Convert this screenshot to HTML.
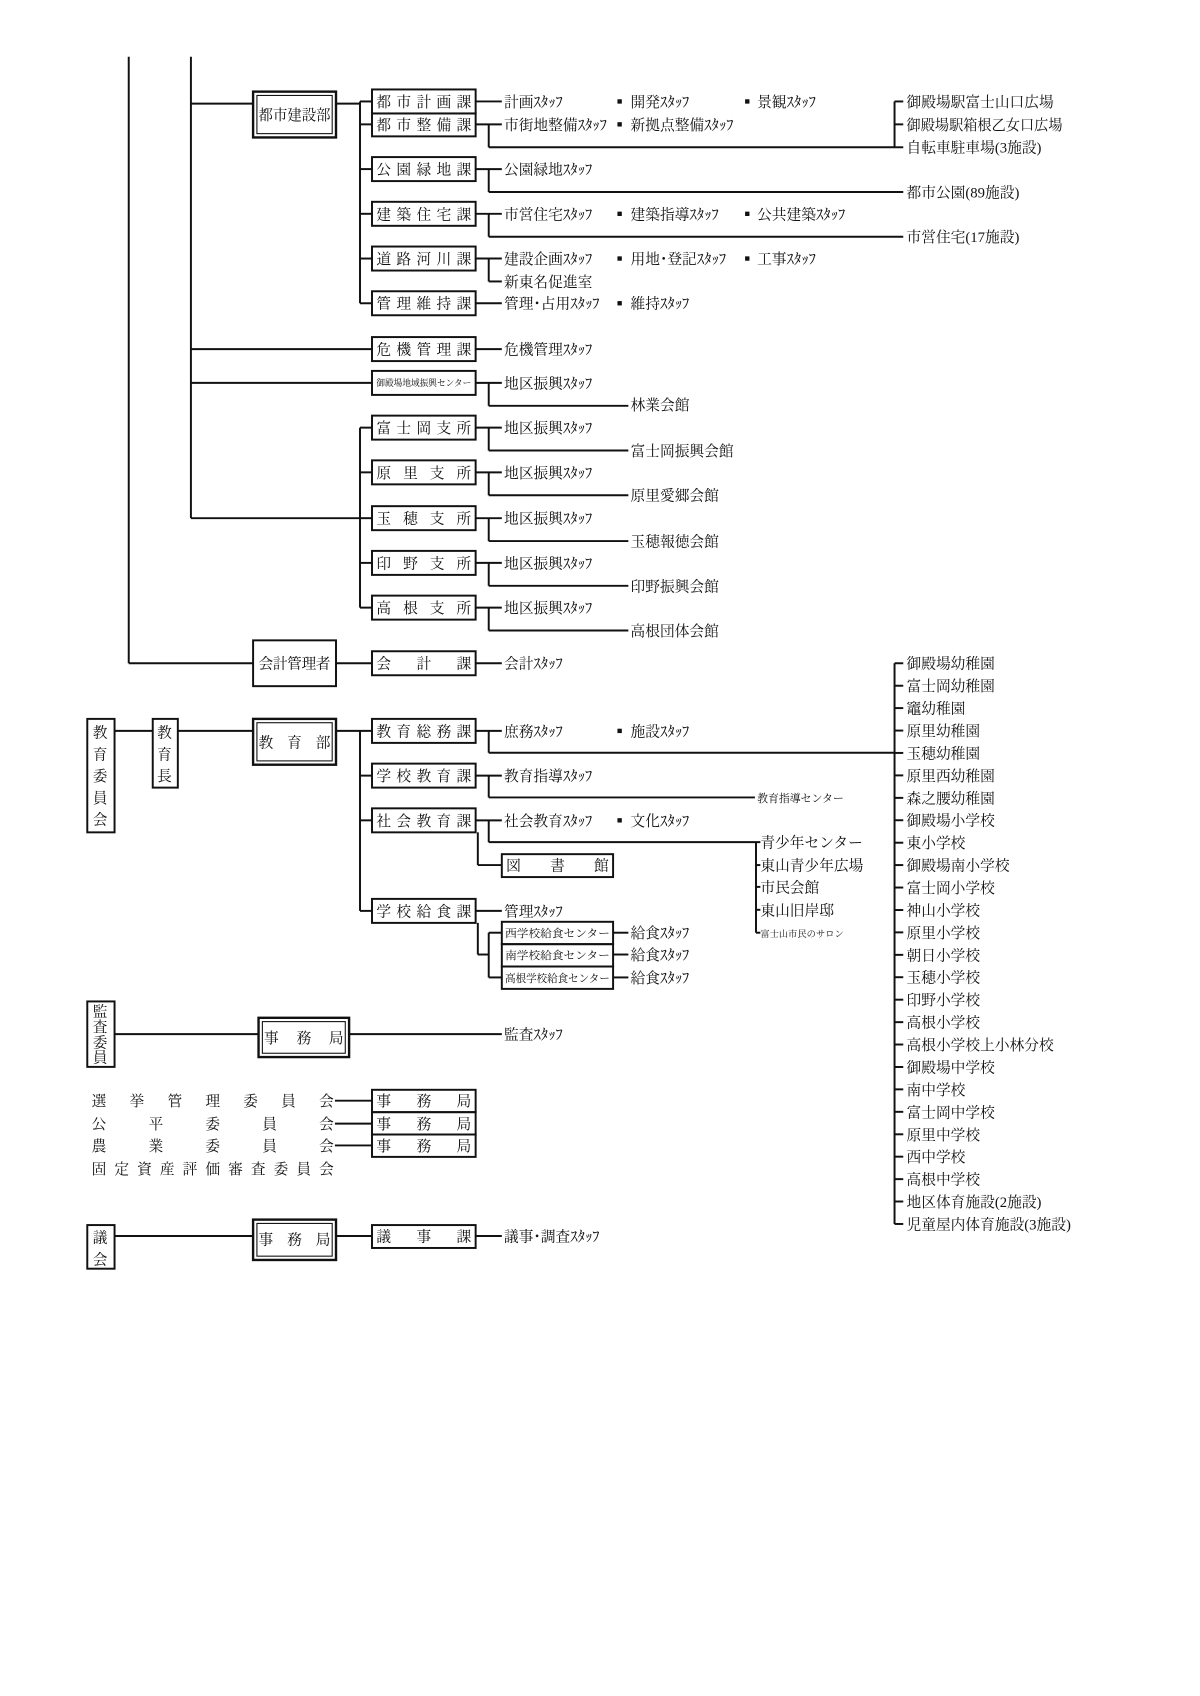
<!DOCTYPE html>
<html><head><meta charset="utf-8">
<style>
html,body{margin:0;padding:0;background:#fff;}
svg{display:block;}
text{font-family:"Liberation Serif","Noto Serif CJK JP","Noto Serif CJK SC",serif;fill:#111;font-size:13.5px;}
.s{font-size:10px;}
.xs{font-size:8.5px;}
</style></head><body>
<svg width="1200" height="1696" viewBox="0 0 1100 1554.7" xmlns="http://www.w3.org/2000/svg">
<g stroke="#111" stroke-width="1.8" fill="none">
<!-- main trunks -->
<line x1="118" y1="52" x2="118" y2="608"/><line x1="118" y1="608" x2="232" y2="608"/>
<line x1="175" y1="52" x2="175" y2="475"/>
<line x1="175" y1="95" x2="232" y2="95"/>
<line x1="175" y1="320" x2="341" y2="320"/>
<line x1="175" y1="351" x2="341" y2="351"/>
<line x1="175" y1="475" x2="330" y2="475"/>
<!-- 都市建設部 -->
<rect x="232" y="84" width="76" height="42" stroke-width="2.2"/><rect x="235.5" y="87.5" width="69" height="35" stroke-width="1"/>
<line x1="308" y1="95" x2="330" y2="95"/>
<line x1="330" y1="93" x2="330" y2="278"/>
<line x1="330" y1="93" x2="341" y2="93"/><line x1="330" y1="114" x2="341" y2="114"/><line x1="330" y1="155" x2="341" y2="155"/><line x1="330" y1="196" x2="341" y2="196"/><line x1="330" y1="237" x2="341" y2="237"/><line x1="330" y1="278" x2="341" y2="278"/>
<!-- section boxes -->
<rect x="341" y="82" width="95" height="22"/><rect x="341" y="104" width="95" height="21"/>
<rect x="341" y="144" width="95" height="22"/><rect x="341" y="185" width="95" height="22"/>
<rect x="341" y="226" width="95" height="22"/><rect x="341" y="267" width="95" height="22"/>
<rect x="341" y="309" width="95" height="22"/><rect x="341" y="340" width="95" height="22"/>
<rect x="341" y="381" width="95" height="22"/><rect x="341" y="422" width="95" height="22"/>
<rect x="341" y="464" width="95" height="22"/><rect x="341" y="505" width="95" height="22"/>
<rect x="341" y="546" width="95" height="22"/><rect x="341" y="597" width="95" height="22"/>
<!-- staff connectors -->
<line x1="436" y1="93" x2="460" y2="93"/><line x1="436" y1="114" x2="460" y2="114"/>
<line x1="448" y1="114" x2="448" y2="135"/><line x1="448" y1="135" x2="820" y2="135"/>
<line x1="820" y1="93" x2="820" y2="135"/><line x1="820" y1="93" x2="828" y2="93"/><line x1="820" y1="114" x2="828" y2="114"/><line x1="820" y1="135" x2="828" y2="135"/>
<line x1="436" y1="155" x2="460" y2="155"/><line x1="448" y1="155" x2="448" y2="176"/><line x1="448" y1="176" x2="828" y2="176"/>
<line x1="436" y1="196" x2="460" y2="196"/><line x1="448" y1="196" x2="448" y2="217"/><line x1="448" y1="217" x2="828" y2="217"/>
<line x1="436" y1="237" x2="460" y2="237"/><line x1="448" y1="237" x2="448" y2="258"/><line x1="448" y1="258" x2="460" y2="258"/>
<line x1="436" y1="278" x2="460" y2="278"/>
<line x1="436" y1="320" x2="460" y2="320"/>
<line x1="436" y1="351" x2="460" y2="351"/><line x1="448" y1="351" x2="448" y2="372"/><line x1="448" y1="372" x2="576" y2="372"/>
<!-- branches -->
<line x1="330" y1="392" x2="330" y2="557"/>
<line x1="330" y1="392" x2="341" y2="392"/><line x1="330" y1="433" x2="341" y2="433"/><line x1="330" y1="557" x2="341" y2="557"/><line x1="330" y1="516" x2="341" y2="516"/><line x1="330" y1="475" x2="341" y2="475"/>
<line x1="436" y1="392" x2="460" y2="392"/><line x1="448" y1="392" x2="448" y2="413"/><line x1="448" y1="413" x2="576" y2="413"/>
<line x1="436" y1="433" x2="460" y2="433"/><line x1="448" y1="433" x2="448" y2="454"/><line x1="448" y1="454" x2="576" y2="454"/>
<line x1="436" y1="475" x2="460" y2="475"/><line x1="448" y1="475" x2="448" y2="496"/><line x1="448" y1="496" x2="576" y2="496"/>
<line x1="436" y1="516" x2="460" y2="516"/><line x1="448" y1="516" x2="448" y2="537"/><line x1="448" y1="537" x2="576" y2="537"/>
<line x1="436" y1="557" x2="460" y2="557"/><line x1="448" y1="557" x2="448" y2="578"/><line x1="448" y1="578" x2="576" y2="578"/>
<!-- 会計管理者 -->
<rect x="232" y="587" width="76" height="42"/>
<line x1="308" y1="608" x2="341" y2="608"/><line x1="436" y1="608" x2="460" y2="608"/>
<!-- education -->
<rect x="80" y="659" width="25" height="104"/>
<rect x="140" y="659" width="23" height="63"/>
<line x1="105" y1="670" x2="140" y2="670"/><line x1="163" y1="670" x2="232" y2="670"/>
<rect x="232" y="659" width="76" height="42" stroke-width="2.2"/><rect x="235.5" y="662.5" width="69" height="35" stroke-width="1"/>
<line x1="308" y1="670" x2="341" y2="670"/>
<line x1="330" y1="670" x2="330" y2="835"/>
<line x1="330" y1="711" x2="341" y2="711"/><line x1="330" y1="752" x2="341" y2="752"/><line x1="330" y1="835" x2="341" y2="835"/>
<rect x="341" y="659" width="95" height="22"/><rect x="341" y="700" width="95" height="22"/>
<rect x="341" y="741" width="95" height="22"/><rect x="341" y="824" width="95" height="22"/>
<line x1="436" y1="670" x2="460" y2="670"/><line x1="448" y1="670" x2="448" y2="690"/><line x1="448" y1="690" x2="820" y2="690"/>
<line x1="820" y1="608" x2="820" y2="1122"/>
<line x1="436" y1="711" x2="460" y2="711"/><line x1="448" y1="711" x2="448" y2="731"/><line x1="448" y1="731" x2="692" y2="731"/>
<line x1="436" y1="752" x2="460" y2="752"/><line x1="448" y1="752" x2="448" y2="772"/><line x1="448" y1="772" x2="697" y2="772"/>
<line x1="438" y1="763" x2="438" y2="793"/><line x1="438" y1="793" x2="460" y2="793"/>
<rect x="460" y="783" width="102" height="21"/>
<line x1="693" y1="772" x2="693" y2="855"/>
<line x1="693" y1="793" x2="697" y2="793"/><line x1="693" y1="813" x2="697" y2="813"/><line x1="693" y1="834" x2="697" y2="834"/><line x1="693" y1="855" x2="697" y2="855"/>
<line x1="436" y1="835" x2="460" y2="835"/>
<line x1="438" y1="846" x2="438" y2="875"/><line x1="438" y1="875" x2="448" y2="875"/>
<line x1="448" y1="855" x2="448" y2="896"/>
<line x1="448" y1="855" x2="460" y2="855"/><line x1="448" y1="896" x2="460" y2="896"/>
<rect x="460" y="845" width="102" height="20.5"/><rect x="460" y="865.5" width="102" height="20.5"/><rect x="460" y="886" width="102" height="20.5"/>
<line x1="562" y1="855" x2="576" y2="855"/><line x1="562" y1="875" x2="576" y2="875"/><line x1="562" y1="896" x2="576" y2="896"/>
<!-- 監査 -->
<rect x="80" y="918" width="25" height="60"/>
<line x1="105" y1="948" x2="237" y2="948"/>
<rect x="237" y="933" width="83" height="36" stroke-width="2.2"/><rect x="240.5" y="936.5" width="76" height="29" stroke-width="1"/>
<line x1="320" y1="948" x2="460" y2="948"/>
<!-- 委員会 -->
<line x1="307" y1="1009" x2="341" y2="1009"/><line x1="307" y1="1030" x2="341" y2="1030"/><line x1="307" y1="1050" x2="341" y2="1050"/>
<rect x="341" y="999" width="95" height="20.5"/><rect x="341" y="1019.5" width="95" height="20.5"/><rect x="341" y="1040" width="95" height="20.5"/>
<!-- 議会 -->
<rect x="80" y="1123" width="25" height="40"/>
<line x1="105" y1="1133" x2="232" y2="1133"/>
<rect x="232" y="1118" width="76" height="37" stroke-width="2.2"/><rect x="235.5" y="1121.5" width="69" height="30" stroke-width="1"/>
<line x1="308" y1="1133" x2="341" y2="1133"/>
<rect x="341" y="1123" width="95" height="21"/>
<line x1="436" y1="1133" x2="460" y2="1133"/>
</g>
<!-- right-side list ticks -->
<g stroke="#111" stroke-width="1.8">
<line x1="820" y1="608" x2="828" y2="608"/><line x1="820" y1="628.6" x2="828" y2="628.6"/><line x1="820" y1="649.1" x2="828" y2="649.1"/><line x1="820" y1="669.7" x2="828" y2="669.7"/><line x1="820" y1="690.2" x2="828" y2="690.2"/><line x1="820" y1="710.8" x2="828" y2="710.8"/><line x1="820" y1="731.4" x2="828" y2="731.4"/><line x1="820" y1="751.9" x2="828" y2="751.9"/><line x1="820" y1="772.5" x2="828" y2="772.5"/><line x1="820" y1="793" x2="828" y2="793"/><line x1="820" y1="813.6" x2="828" y2="813.6"/><line x1="820" y1="834.2" x2="828" y2="834.2"/><line x1="820" y1="854.7" x2="828" y2="854.7"/><line x1="820" y1="875.3" x2="828" y2="875.3"/><line x1="820" y1="895.8" x2="828" y2="895.8"/><line x1="820" y1="916.4" x2="828" y2="916.4"/><line x1="820" y1="937" x2="828" y2="937"/><line x1="820" y1="957.5" x2="828" y2="957.5"/><line x1="820" y1="978.1" x2="828" y2="978.1"/><line x1="820" y1="998.6" x2="828" y2="998.6"/><line x1="820" y1="1019.2" x2="828" y2="1019.2"/><line x1="820" y1="1039.8" x2="828" y2="1039.8"/><line x1="820" y1="1060.3" x2="828" y2="1060.3"/><line x1="820" y1="1080.9" x2="828" y2="1080.9"/><line x1="820" y1="1101.4" x2="828" y2="1101.4"/><line x1="820" y1="1122" x2="828" y2="1122"/>
</g>
<!-- bullets -->
<g fill="#111">
<rect x="566" y="91" width="4" height="4"/><rect x="683" y="91" width="4" height="4"/>
<rect x="566" y="112" width="4" height="4"/>
<rect x="566" y="194" width="4" height="4"/><rect x="683" y="194" width="4" height="4"/>
<rect x="566" y="235" width="4" height="4"/><rect x="683" y="235" width="4" height="4"/>
<rect x="566" y="276" width="4" height="4"/>
<rect x="566" y="668" width="4" height="4"/>
<rect x="566" y="750" width="4" height="4"/>
</g>
<!-- box labels -->
<text x="237" y="110" textLength="66" lengthAdjust="spacingAndGlyphs">都市建設部</text>
<g>
<text x="345" y="98" textLength="87" lengthAdjust="spacing">都市計画課</text>
<text x="345" y="119" textLength="87" lengthAdjust="spacing">都市整備課</text>
<text x="345" y="160" textLength="87" lengthAdjust="spacing">公園緑地課</text>
<text x="345" y="201" textLength="87" lengthAdjust="spacing">建築住宅課</text>
<text x="345" y="242" textLength="87" lengthAdjust="spacing">道路河川課</text>
<text x="345" y="283" textLength="87" lengthAdjust="spacing">管理維持課</text>
<text x="345" y="325" textLength="87" lengthAdjust="spacing">危機管理課</text>
<text class="xs" x="345" y="354" textLength="87" lengthAdjust="spacingAndGlyphs">御殿場地域振興センター</text>
<text x="345" y="397" textLength="87" lengthAdjust="spacing">富士岡支所</text>
<text x="345" y="438" textLength="87" lengthAdjust="spacing">原里支所</text>
<text x="345" y="480" textLength="87" lengthAdjust="spacing">玉穂支所</text>
<text x="345" y="521" textLength="87" lengthAdjust="spacing">印野支所</text>
<text x="345" y="562" textLength="87" lengthAdjust="spacing">高根支所</text>
<text x="345" y="613" textLength="87" lengthAdjust="spacing">会計課</text>
<text x="237" y="613" textLength="66" lengthAdjust="spacing">会計管理者</text>
<text x="237" y="685" textLength="66" lengthAdjust="spacing">教育部</text>
<text x="345" y="675" textLength="87" lengthAdjust="spacing">教育総務課</text>
<text x="345" y="716" textLength="87" lengthAdjust="spacing">学校教育課</text>
<text x="345" y="757" textLength="87" lengthAdjust="spacing">社会教育課</text>
<text x="345" y="840" textLength="87" lengthAdjust="spacing">学校給食課</text>
<text x="464" y="798" textLength="94" lengthAdjust="spacing">図書館</text>
<text class="s" x="463" y="859" textLength="96" lengthAdjust="spacingAndGlyphs">西学校給食センター</text>
<text class="s" x="463" y="879" textLength="96" lengthAdjust="spacingAndGlyphs">南学校給食センター</text>
<text class="s" x="463" y="900" textLength="96" lengthAdjust="spacingAndGlyphs">高根学校給食センター</text>
<text x="242" y="956" textLength="73" lengthAdjust="spacing">事務局</text>
<text x="345" y="1014" textLength="87" lengthAdjust="spacing">事務局</text>
<text x="345" y="1035" textLength="87" lengthAdjust="spacing">事務局</text>
<text x="345" y="1055" textLength="87" lengthAdjust="spacing">事務局</text>
<text x="237" y="1141" textLength="66" lengthAdjust="spacing">事務局</text>
<text x="345" y="1138" textLength="87" lengthAdjust="spacing">議事課</text>
</g>
<!-- vertical labels -->
<g>
<text x="85" y="676">教</text><text x="85" y="696">育</text><text x="85" y="716">委</text><text x="85" y="736">員</text><text x="85" y="756">会</text>
<text x="144" y="676">教</text><text x="144" y="696">育</text><text x="144" y="716">長</text>
<text x="85" y="932">監</text><text x="85" y="946">査</text><text x="85" y="960">委</text><text x="85" y="974">員</text>
<text x="85" y="1139">議</text><text x="85" y="1159">会</text>
</g>
<!-- committees -->
<text x="84" y="1014" textLength="222" lengthAdjust="spacing">選挙管理委員会</text>
<text x="84" y="1035" textLength="222" lengthAdjust="spacing">公平委員会</text>
<text x="84" y="1055" textLength="222" lengthAdjust="spacing">農業委員会</text>
<text x="84" y="1076" textLength="222" lengthAdjust="spacing">固定資産評価審査委員会</text>
<!-- staff texts -->
<g>
<text x="462" y="98">計画ｽﾀｯﾌ</text><text x="578" y="98">開発ｽﾀｯﾌ</text><text x="694" y="98">景観ｽﾀｯﾌ</text>
<text x="462" y="119">市街地整備ｽﾀｯﾌ</text><text x="578" y="119">新拠点整備ｽﾀｯﾌ</text>
<text x="462" y="160">公園緑地ｽﾀｯﾌ</text>
<text x="462" y="201">市営住宅ｽﾀｯﾌ</text><text x="578" y="201">建築指導ｽﾀｯﾌ</text><text x="694" y="201">公共建築ｽﾀｯﾌ</text>
<text x="462" y="242">建設企画ｽﾀｯﾌ</text><text x="578" y="242">用地･登記ｽﾀｯﾌ</text><text x="694" y="242">工事ｽﾀｯﾌ</text>
<text x="462" y="263">新東名促進室</text>
<text x="462" y="283">管理･占用ｽﾀｯﾌ</text><text x="578" y="283">維持ｽﾀｯﾌ</text>
<text x="462" y="325">危機管理ｽﾀｯﾌ</text>
<text x="462" y="356">地区振興ｽﾀｯﾌ</text><text x="578" y="376">林業会館</text>
<text x="462" y="397">地区振興ｽﾀｯﾌ</text><text x="578" y="418">富士岡振興会館</text>
<text x="462" y="438">地区振興ｽﾀｯﾌ</text><text x="578" y="459">原里愛郷会館</text>
<text x="462" y="480">地区振興ｽﾀｯﾌ</text><text x="578" y="501">玉穂報徳会館</text>
<text x="462" y="521">地区振興ｽﾀｯﾌ</text><text x="578" y="542">印野振興会館</text>
<text x="462" y="562">地区振興ｽﾀｯﾌ</text><text x="578" y="583">高根団体会館</text>
<text x="462" y="613">会計ｽﾀｯﾌ</text>
<text x="831" y="98">御殿場駅富士山口広場</text>
<text x="831" y="119" textLength="143" lengthAdjust="spacingAndGlyphs">御殿場駅箱根乙女口広場</text>
<text x="831" y="140">自転車駐車場(3施設)</text>
<text x="831" y="181">都市公園(89施設)</text>
<text x="831" y="222">市営住宅(17施設)</text>
<text x="462" y="675">庶務ｽﾀｯﾌ</text><text x="578" y="675">施設ｽﾀｯﾌ</text>
<text x="462" y="716">教育指導ｽﾀｯﾌ</text>
<text class="s" x="694" y="735">教育指導センター</text>
<text x="462" y="757">社会教育ｽﾀｯﾌ</text><text x="578" y="757">文化ｽﾀｯﾌ</text>
<text x="697" y="777">青少年センター</text>
<text x="697" y="798">東山青少年広場</text>
<text x="697" y="818">市民会館</text>
<text x="697" y="839">東山旧岸邸</text>
<text class="xs" x="697" y="859">富士山市民のサロン</text>
<text x="462" y="840">管理ｽﾀｯﾌ</text>
<text x="578" y="860">給食ｽﾀｯﾌ</text><text x="578" y="880">給食ｽﾀｯﾌ</text><text x="578" y="901">給食ｽﾀｯﾌ</text>
<text x="462" y="953">監査ｽﾀｯﾌ</text>
<text x="462" y="1138">議事･調査ｽﾀｯﾌ</text>
</g>
<!-- education facility list -->
<g>
<text x="831" y="613">御殿場幼稚園</text>
<text x="831" y="633.6">富士岡幼稚園</text>
<text x="831" y="654.1">竈幼稚園</text>
<text x="831" y="674.7">原里幼稚園</text>
<text x="831" y="695.2">玉穂幼稚園</text>
<text x="831" y="715.8">原里西幼稚園</text>
<text x="831" y="736.4">森之腰幼稚園</text>
<text x="831" y="756.9">御殿場小学校</text>
<text x="831" y="777.5">東小学校</text>
<text x="831" y="798">御殿場南小学校</text>
<text x="831" y="818.6">富士岡小学校</text>
<text x="831" y="839.2">神山小学校</text>
<text x="831" y="859.7">原里小学校</text>
<text x="831" y="880.3">朝日小学校</text>
<text x="831" y="900.8">玉穂小学校</text>
<text x="831" y="921.4">印野小学校</text>
<text x="831" y="942">高根小学校</text>
<text x="831" y="962.5">高根小学校上小林分校</text>
<text x="831" y="983.1">御殿場中学校</text>
<text x="831" y="1003.6">南中学校</text>
<text x="831" y="1024.2">富士岡中学校</text>
<text x="831" y="1044.8">原里中学校</text>
<text x="831" y="1065.3">西中学校</text>
<text x="831" y="1085.9">高根中学校</text>
<text x="831" y="1106.4">地区体育施設(2施設)</text>
<text x="831" y="1127">児童屋内体育施設(3施設)</text>
</g>
</svg>
</body></html>
